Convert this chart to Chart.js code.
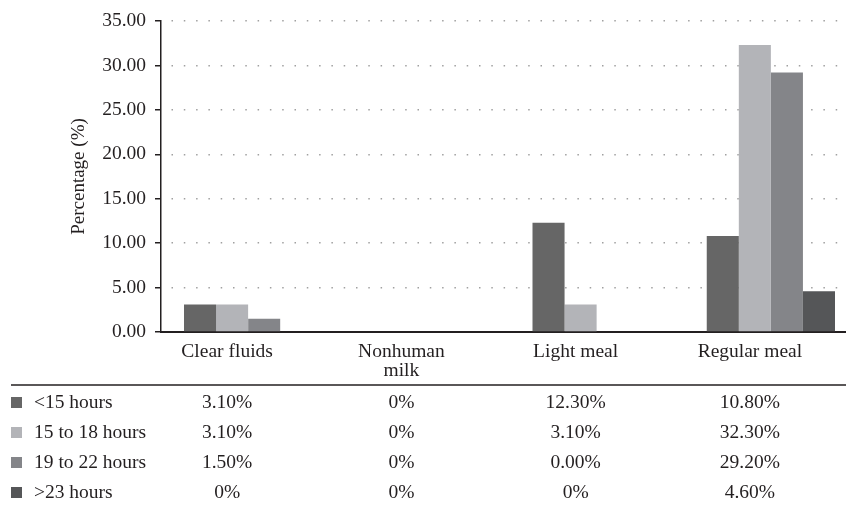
<!DOCTYPE html>
<html>
<head>
<meta charset="utf-8">
<script src="https://cdn.jsdelivr.net/npm/chart.js@4.4.0/dist/chart.umd.min.js"></script>
<style>
  html, body { margin: 0; padding: 0; background: #fff; overflow: hidden; }
  #wrap { position: relative; width: 858px; height: 506px; }
</style>
</head>
<body>
<div id="wrap"><canvas id="chart" width="858" height="506"></canvas></div>
<script>
// données
const categories = ['Clear fluids', ['Nonhuman', 'milk'], 'Light meal', 'Regular meal'];
const seriesNames = ['<15 hours', '15 to 18 hours', '19 to 22 hours', '>23 hours'];
const under15 = [3.1, 0, 12.3, 10.8];
const from15to18 = [3.1, 0, 3.1, 32.3];
const from19to22 = [1.5, 0, 0, 29.2];
const over23 = [0, 0, 0, 4.6];
const tableRows = [
    ['3.10%', '0%', '12.30%', '10.80%'],
    ['3.10%', '0%', '3.10%', '32.30%'],
    ['1.50%', '0%', '0.00%', '29.20%'],
    ['0%', '0%', '0%', '4.60%']
];
const yMax = 35;
const yStep = 5;

const colors = ['#666666', '#b3b4b8', '#848589', '#555658'];
const textColor = '#231f20';
const serif = "'Liberation Serif', 'DejaVu Serif', serif";
const fontSize = 19.5;
const labelShift = -21;

// tableau de données sous l'axe
const dataTable = {
    id: 'dataTable',
    afterDraw(chart) {
        const ctx = chart.ctx;
        const x = chart.scales.x;
        ctx.save();
        ctx.strokeStyle = '#231f20';
        ctx.lineWidth = 1.5;
        ctx.beginPath();
        ctx.moveTo(11, 385);
        ctx.lineTo(chart.width, 385);
        ctx.stroke();

        ctx.font = fontSize + 'px ' + serif;
        ctx.textBaseline = 'middle';
        tableRows.forEach((row, r) => {
            const y = 403 + r * 30;
            ctx.fillStyle = colors[r];
            ctx.fillRect(11, y - 6, 11, 11);
            ctx.fillStyle = textColor;
            ctx.textAlign = 'left';
            ctx.fillText(seriesNames[r], 34, y);
            ctx.textAlign = 'center';
            row.forEach((txt, i) => {
                ctx.fillText(txt, x.getPixelForValue(i) + labelShift, y);
            });
        });
        ctx.restore();
    }
};

const ctx = document.getElementById('chart').getContext('2d');
new Chart(ctx, {
    type: 'bar',
    data: {
        labels: categories,
        datasets: [under15, from15to18, from19to22, over23].map((d, i) => ({
            label: seriesNames[i],
            data: d,
            backgroundColor: colors[i],
            borderWidth: 0,
            barPercentage: 1,
            categoryPercentage: 0.736
        }))
    },
    options: {
        responsive: false,
        animation: false,
        layout: { padding: { top: 21, right: 0, bottom: 0, left: 0 } },
        plugins: {
            legend: { display: false },
            tooltip: { enabled: false }
        },
        scales: {
            x: {
                afterFit: s => { s.height = 174; },
                grid: { display: false, drawTicks: false },
                border: { color: '#231f20', width: 2 },
                ticks: {
                    color: textColor,
                    font: { family: serif, size: fontSize, lineHeight: 0.95 },
                    padding: 11,
                    labelOffset: labelShift,
                    maxRotation: 0,
                    autoSkip: false
                }
            },
            y: {
                min: 0,
                max: yMax,
                afterFit: s => { s.width = 161; },
                grid: {
                    color: '#a0a0a0',
                    tickColor: '#231f20',
                    tickLength: 6,
                    lineWidth: 1.5,
                    tickWidth: 1.5,
                    tickBorderDash: []
                },
                border: { color: '#231f20', width: 1.5, dash: [1.5, 10.8], dashOffset: -10 },
                ticks: {
                    stepSize: yStep,
                    padding: 9,
                    color: textColor,
                    font: { family: serif, size: fontSize },
                    callback: v => v.toFixed(2)
                },
                title: {
                    display: true,
                    text: 'Percentage (%)',
                    color: textColor,
                    font: { family: serif, size: 19 },
                    padding: { top: 68, bottom: 0 }
                }
            }
        }
    },
    plugins: [dataTable]
});
</script>
</body>
</html>
